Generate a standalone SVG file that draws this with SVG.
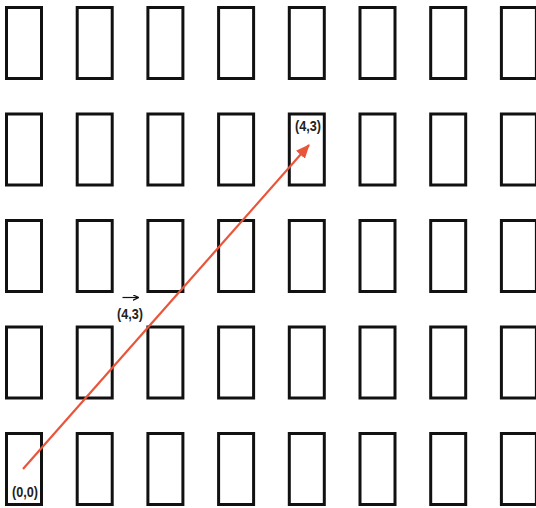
<svg xmlns="http://www.w3.org/2000/svg" width="536" height="508" viewBox="0 0 536 508">
<defs>
<style>
.cell{fill:#fff;stroke:#111;stroke-width:3}
.lbl{font-family:"Liberation Sans",sans-serif;font-size:15px;fill:#222;font-weight:bold}
</style>
<marker id="ah" markerWidth="14" markerHeight="12" refX="13" refY="6" orient="auto" markerUnits="userSpaceOnUse"><path d="M0,0 L14,6 L0,12 Z" fill="#e8553a"/></marker>
<marker id="sm" markerWidth="6" markerHeight="6" refX="6" refY="3" orient="auto" markerUnits="userSpaceOnUse"><path d="M0,0 L6,3 L0,6" fill="none" stroke="#111" stroke-width="1.2"/></marker>
<rect id="c" width="35" height="71" class="cell"/>
</defs>
<rect width="536" height="508" fill="#fff"/>
<g id="grid">
<g id="r0">
<use href="#c" x="6.5" y="7.5"/><use href="#c" x="77.2" y="7.5"/><use href="#c" x="147.9" y="7.5"/><use href="#c" x="218.6" y="7.5"/><use href="#c" x="289.3" y="7.5"/><use href="#c" x="360" y="7.5"/><use href="#c" x="430.7" y="7.5"/><use href="#c" x="501.4" y="7.5"/>
</g>
<g id="r1">
<use href="#c" x="6.5" y="114"/><use href="#c" x="77.2" y="114"/><use href="#c" x="147.9" y="114"/><use href="#c" x="218.6" y="114"/><use href="#c" x="289.3" y="114"/><use href="#c" x="360" y="114"/><use href="#c" x="430.7" y="114"/><use href="#c" x="501.4" y="114"/>
</g>
<g id="r2">
<use href="#c" x="6.5" y="220.5"/><use href="#c" x="77.2" y="220.5"/><use href="#c" x="147.9" y="220.5"/><use href="#c" x="218.6" y="220.5"/><use href="#c" x="289.3" y="220.5"/><use href="#c" x="360" y="220.5"/><use href="#c" x="430.7" y="220.5"/><use href="#c" x="501.4" y="220.5"/>
</g>
<g id="r3">
<use href="#c" x="6.5" y="327"/><use href="#c" x="77.2" y="327"/><use href="#c" x="147.9" y="327"/><use href="#c" x="218.6" y="327"/><use href="#c" x="289.3" y="327"/><use href="#c" x="360" y="327"/><use href="#c" x="430.7" y="327"/><use href="#c" x="501.4" y="327"/>
</g>
<g id="r4">
<use href="#c" x="6.5" y="433.5"/><use href="#c" x="77.2" y="433.5"/><use href="#c" x="147.9" y="433.5"/><use href="#c" x="218.6" y="433.5"/><use href="#c" x="289.3" y="433.5"/><use href="#c" x="360" y="433.5"/><use href="#c" x="430.7" y="433.5"/><use href="#c" x="501.4" y="433.5"/>
</g>
</g>
<g id="connectors">
<line x1="23" y1="469" x2="309" y2="145" stroke="#e8553a" stroke-width="2.2" marker-end="url(#ah)"/>
</g>
<g id="labels">
<text class="lbl" x="295" y="131" textLength="26" lengthAdjust="spacingAndGlyphs">(4,3)</text>
<text class="lbl" x="12" y="497" textLength="26" lengthAdjust="spacingAndGlyphs">(0,0)</text>
<line x1="122.5" y1="297.5" x2="138.5" y2="297.5" stroke="#111" stroke-width="1.2" marker-end="url(#sm)"/>
<text class="lbl" x="117" y="319" textLength="26" lengthAdjust="spacingAndGlyphs">(4,3)</text>
</g>
</svg>
